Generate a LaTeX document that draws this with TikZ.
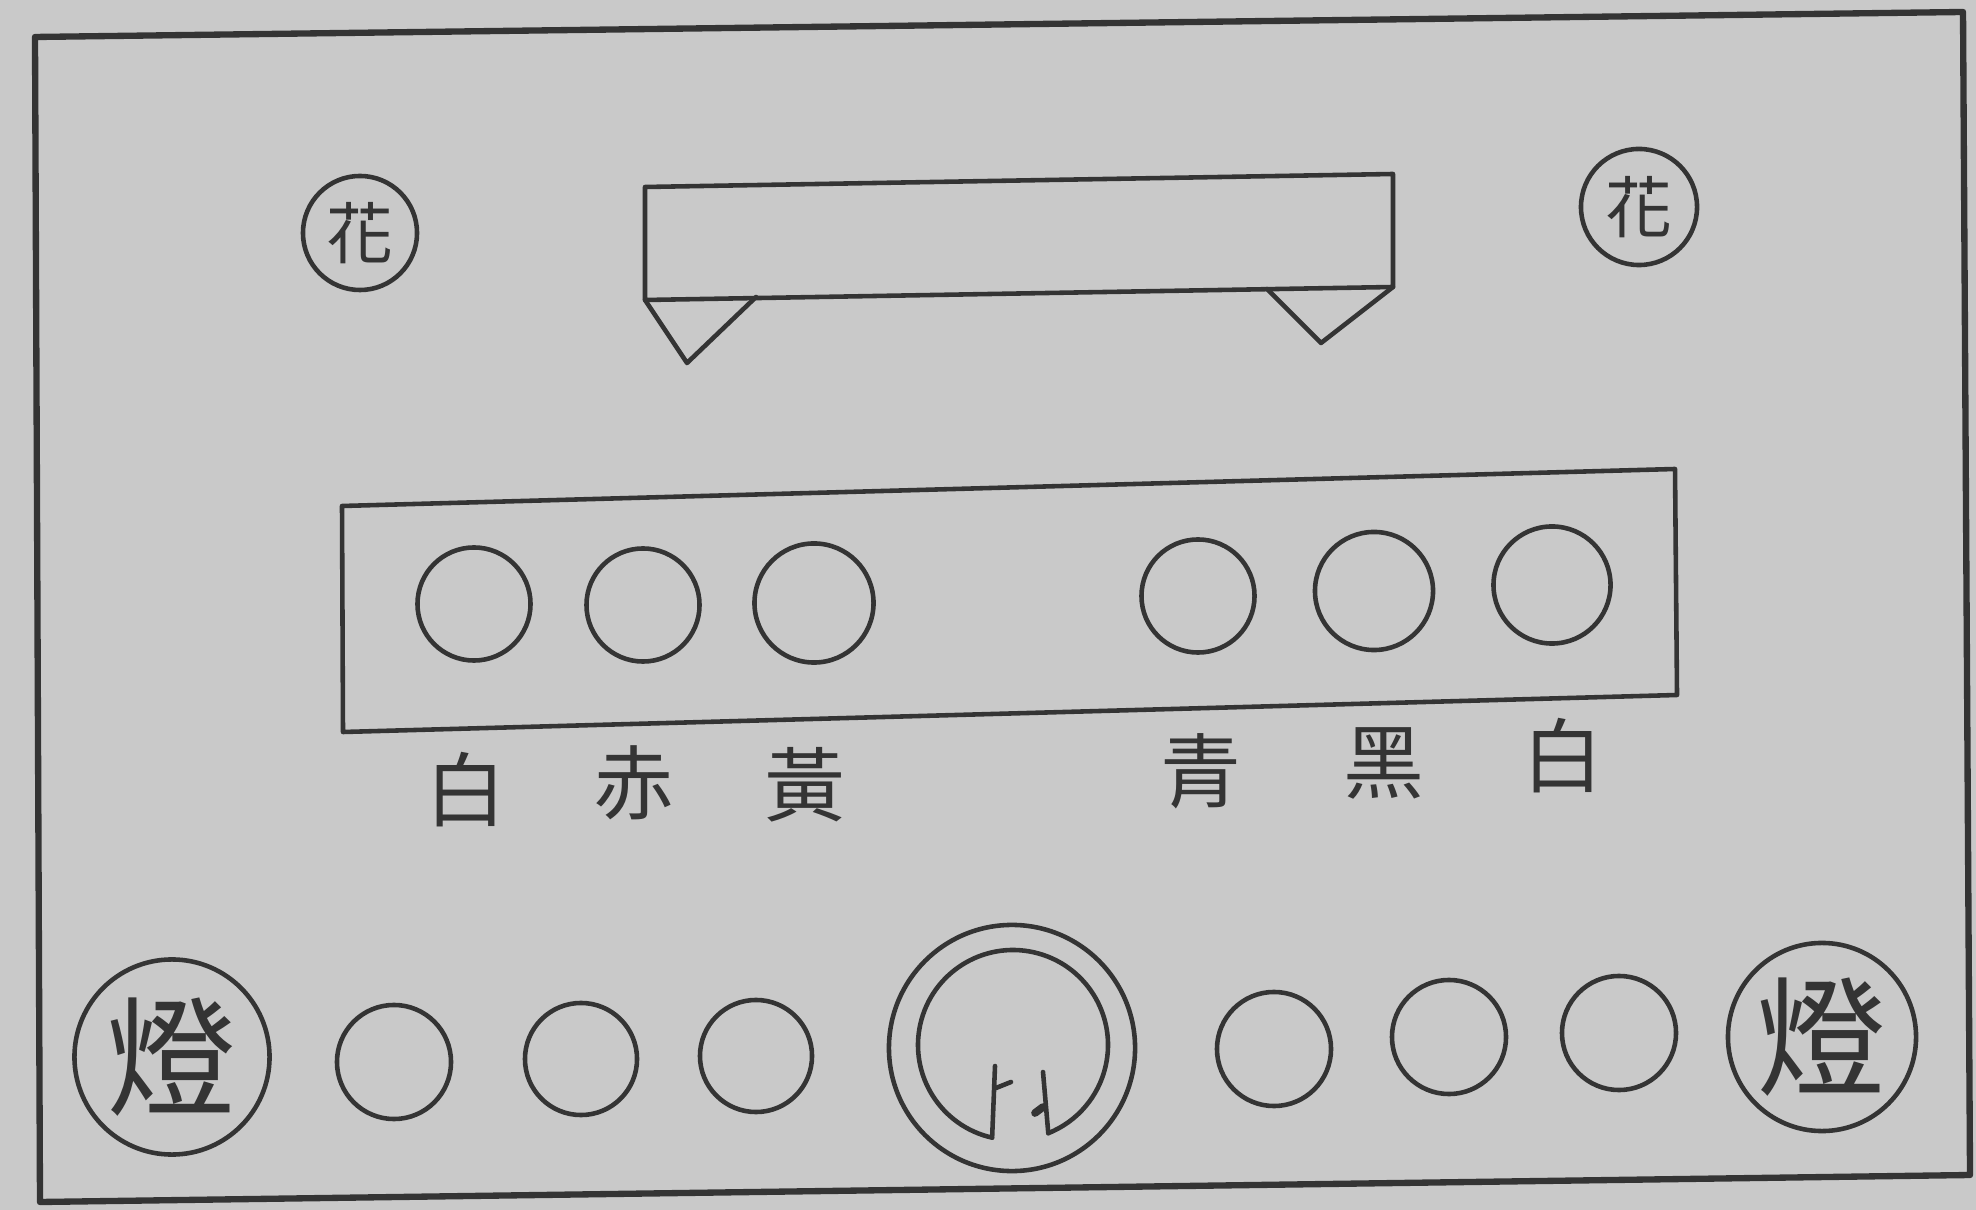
\documentclass[tikz,border=0pt]{standalone}
\usepackage{fontspec}
\newfontfamily\cjk{Noto Sans CJK TC}
\definecolor{paper}{RGB}{201,201,201}
\definecolor{inkc}{RGB}{52,52,52}
\tikzset{
  ink/.style={draw=inkc, line width=1.3pt, line join=round, line cap=round},
  frameline/.style={draw=inkc, line width=1.8pt, line join=round},
  hole/.style={circle, ink, minimum size=1.13cm, inner sep=0pt},
  badge/.style={circle, ink, inner sep=0pt, text=inkc},
  lbl/.style={text=inkc, font=\cjk\fontsize{23}{23}\selectfont, inner sep=0pt}
}
\begin{document}
\begin{tikzpicture}[x=0.01cm, y=-0.01cm]
\fill[paper] (0,0) rectangle (1976,1210);
\useasboundingbox (0,0) rectangle (1976,1210);
% outer frame
\draw[frameline] (35,37) -- (1963,12) -- (1970,1175) -- (40,1202) -- cycle;
% top board with two triangular feet
\draw[ink] (645,187) -- (1393,174) -- (1393,287) -- (645,300) -- cycle;
\draw[ink] (645,300) -- (687,363) -- (756,297);
\draw[ink] (1267,289) -- (1321,343) -- (1393,287);
% flower badges
\node[badge, minimum size=1.14cm, font=\cjk\fontsize{19}{19}\selectfont] (hua1) at (360,233) {花};
\node[badge, minimum size=1.16cm, font=\cjk\fontsize{19}{19}\selectfont] (hua2) at (1639,207) {花};
% middle board
\draw[ink] (342,506) -- (1675,469) -- (1677,695) -- (343,732) -- cycle;
\node[hole] (u1) at (474,604) {};
\node[hole] (u2) at (643,605) {};
\node[hole, minimum size=1.19cm] (u3) at (814,603) {};
\node[hole] (u4) at (1198,596) {};
\node[hole, minimum size=1.18cm] (u5) at (1374,591) {};
\node[hole, minimum size=1.17cm] (u6) at (1552,585) {};
% colour labels
\node[lbl] (l1) at (466,790) {白};
\node[lbl] (l2) at (634,783) {赤};
\node[lbl] (l3) at (805,785) {黃};
\node[lbl] (l4) at (1201,771) {青};
\node[lbl] (l5) at (1384,763) {黑};
\node[lbl] (l6) at (1563,756) {白};
% bottom row
\node[badge, minimum size=1.95cm, font=\cjk\fontsize{37}{37}\selectfont] (deng1) at (172,1057) {燈};
\node[badge, minimum size=1.88cm, font=\cjk\fontsize{37}{37}\selectfont] (deng2) at (1822,1037) {燈};
\node[hole, minimum size=1.14cm] (d1) at (394,1062) {};
\node[hole, minimum size=1.12cm] (d2) at (581,1059) {};
\node[hole, minimum size=1.12cm] (d3) at (756,1056) {};
\node[hole, minimum size=1.14cm] (d4) at (1274,1049) {};
\node[hole, minimum size=1.14cm] (d5) at (1449,1037) {};
\node[hole, minimum size=1.14cm] (d6) at (1619,1033) {};
% central double ring
\node[circle, ink, minimum size=2.46cm, inner sep=0pt] (ring) at (1012,1048) {};
\coordinate (rc) at (1013,1045);
\draw[ink] (rc) ++(102.7:95) arc[start angle=102.7, end angle=428.2, radius=95];
\draw[ink] (rc) ++(102.7:95) -- (995,1066);
\draw[ink] (996,1088) -- (1011,1082);
\draw[ink] (rc) ++(68.2:95) -- (1043,1072);
\draw[ink, line width=2.2pt] (1035,1113) -- (1043,1107);
\end{tikzpicture}
\end{document}
